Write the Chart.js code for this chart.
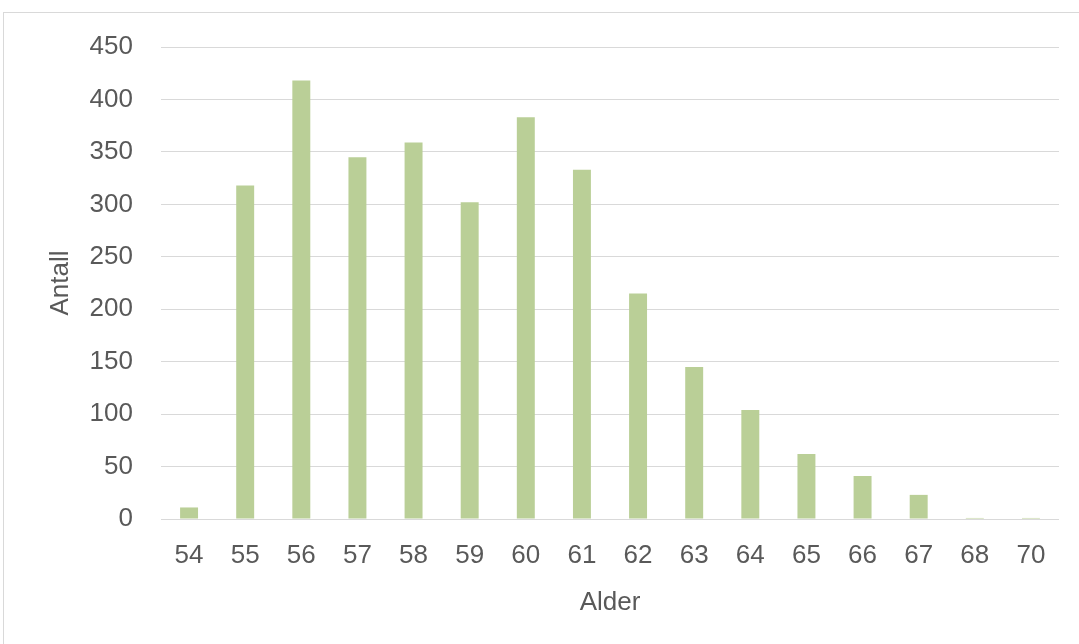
<!DOCTYPE html>
<html>
<head>
<meta charset="utf-8">
<script src="https://cdn.jsdelivr.net/npm/chart.js@4"></script>
<style>
  html, body { margin: 0; padding: 0; background: #fff; }
  #wrap { width: 1079px; height: 644px; }
</style>
</head>
<body>
<div id="wrap"><canvas id="chart" width="1079" height="644"></canvas></div>
<script>
const ages = ['54', '55', '56', '57', '58', '59', '60', '61', '62', '63', '64', '65', '66', '67', '68', '70'];
const counts = [11, 318, 418, 345, 359, 302, 383, 333, 215, 145, 104, 62, 41, 23, 1, 1];
const yTicks = [0, 50, 100, 150, 200, 250, 300, 350, 400, 450];

const textColor = '#595959';
const gridColor = '#d9d9d9';
const font = { family: "'Liberation Sans', Arial, Helvetica, sans-serif", size: 26 };

// light grey frame round the whole chart
const framePlugin = {
  id: 'frame',
  beforeDraw(chart) {
    const ctx = chart.ctx;
    ctx.save();
    ctx.fillStyle = '#fff';
    ctx.fillRect(0, 0, chart.width, chart.height);
    ctx.strokeStyle = gridColor;
    ctx.lineWidth = 1;
    ctx.strokeRect(3.5, 12.5, chart.width + 10, chart.height + 10);
    ctx.restore();
  }
};

new Chart(document.getElementById('chart').getContext('2d'), {
  type: 'bar',
  data: {
    labels: ages,
    datasets: [{
      label: 'Antall',
      data: counts,
      backgroundColor: '#bacf97',
      borderWidth: 0,
      categoryPercentage: 1,
      barPercentage: 0.32
    }]
  },
  options: {
    responsive: false,
    animation: false,
    layout: { padding: { left: 37, top: 47, right: 20, bottom: 26 } },
    plugins: { legend: { display: false }, tooltip: { enabled: false } },
    scales: {
      x: {
        afterFit(scale) {
          scale.height = 99;
        },
        grid: { display: false, drawTicks: false },
        border: { display: false },
        ticks: { color: textColor, font: font, padding: 21, maxRotation: 0 },
        title: { display: true, text: 'Alder', color: textColor, font: font, padding: { top: 10, bottom: 0 } }
      },
      y: {
        min: 0,
        max: 450,
        afterBuildTicks(scale) {
          scale.ticks = yTicks.map(v => ({ value: v }));
        },
        afterFit(scale) {
          scale.width = 124;
        },
        grid: { color: gridColor, lineWidth: 1, drawTicks: false },
        border: { display: false },
        ticks: { color: textColor, font: font, padding: 28 },
        title: { display: true, text: 'Antall', color: textColor, font: font, padding: { top: 8, bottom: 0 } }
      }
    }
  },
  plugins: [framePlugin]
});
</script>
</body>
</html>
